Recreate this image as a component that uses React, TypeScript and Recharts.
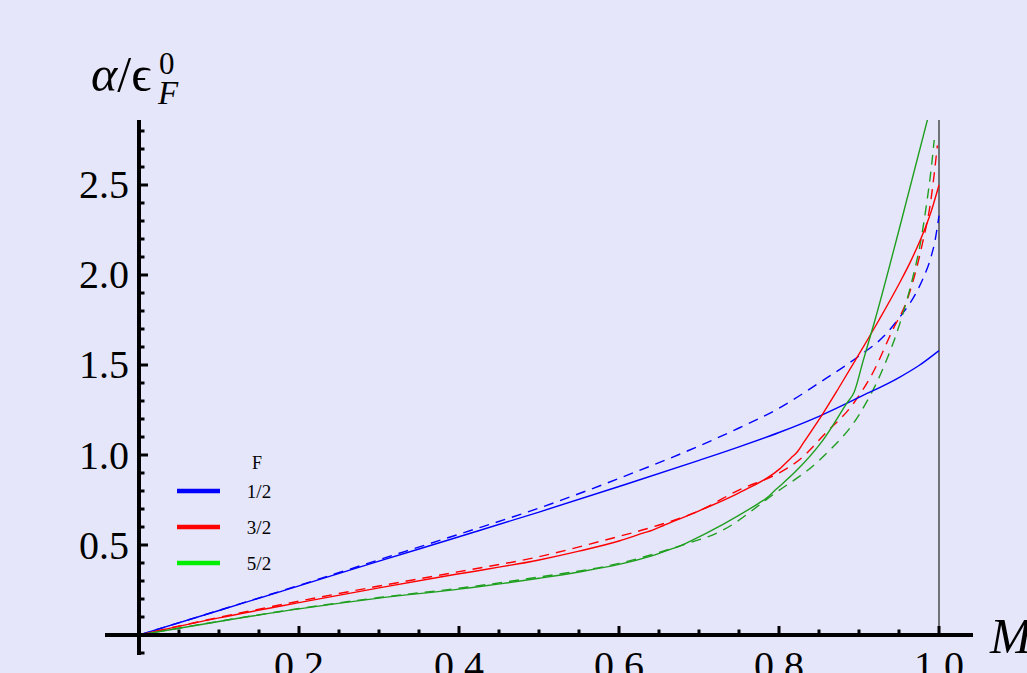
import React from "react";
import { LineChart, Line, XAxis, YAxis, ReferenceLine, ReferenceDot, Legend } from "recharts";

// ---- axis ranges (plot range incl. the bits of axis beyond the origin) ----
const X_MIN = -0.0425;
const X_MAX = 1.0425;
const Y_MIN = -0.1111;
const Y_MAX = 2.8611;

// ---- ticks ----
const xMajorTicks = [0.2, 0.4, 0.6, 0.8, 1.0];
const xMajorLabels = ["0.2", "0.4", "0.6", "0.8", "1.0"];
const xMinorTicks = [0.05, 0.1, 0.15, 0.25, 0.3, 0.35, 0.45, 0.5, 0.55, 0.65, 0.7, 0.75, 0.85, 0.9, 0.95];
const yMajorTicks = [0.5, 1.0, 1.5, 2.0, 2.5];
const yMajorLabels = ["0.5", "1.0", "1.5", "2.0", "2.5"];
const yMinorTicks = [-0.1, 0.1, 0.2, 0.3, 0.4, 0.6, 0.7, 0.8, 0.9, 1.1, 1.2, 1.3, 1.4, 1.6, 1.7, 1.8, 1.9, 2.1, 2.2, 2.3, 2.4, 2.6, 2.7, 2.8];

// ---- series: F = 1/2 (blue) ----
const blueSolidX = [0, 0.1, 0.2, 0.3, 0.4, 0.5, 0.6, 0.7, 0.75, 0.8, 0.85, 0.9, 0.95, 0.975, 1.0];
const blueSolidY = [0, 0.136, 0.273, 0.41, 0.546, 0.683, 0.825, 0.97, 1.045, 1.125, 1.215, 1.32, 1.43, 1.497, 1.58];
const blueDashX = [0, 0.1, 0.2, 0.3, 0.4, 0.5, 0.6, 0.7, 0.75, 0.8, 0.85, 0.9, 0.93, 0.95, 0.97, 0.98, 0.99, 0.995, 1.0];
const blueDashY = [0, 0.137, 0.276, 0.418, 0.56, 0.705, 0.87, 1.05, 1.15, 1.26, 1.4, 1.55, 1.655, 1.76, 1.89, 1.98, 2.1, 2.19, 2.33];

// ---- series: F = 3/2 (red) ----
const redSolidX = [0, 0.1, 0.2, 0.3, 0.4, 0.5, 0.55, 0.6, 0.63, 0.642, 0.655, 0.7, 0.75, 0.8, 0.815, 0.823, 0.83, 0.85, 0.875, 0.9, 0.925, 0.95, 0.965, 0.98, 0.99, 1.0];
const redSolidY = [0, 0.095, 0.18, 0.262, 0.34, 0.417, 0.466, 0.522, 0.566, 0.583, 0.607, 0.69, 0.79, 0.92, 0.984, 1.018, 1.064, 1.196, 1.375, 1.56, 1.75, 1.95, 2.08, 2.23, 2.35, 2.5];
const redDashX = [0, 0.1, 0.2, 0.3, 0.4, 0.5, 0.583, 0.642, 0.7, 0.751, 0.8, 0.826, 0.858, 0.892, 0.917, 0.942, 0.96, 0.979, 0.99, 0.998];
const redDashY = [0, 0.098, 0.188, 0.272, 0.352, 0.435, 0.528, 0.6, 0.69, 0.808, 0.9, 0.975, 1.12, 1.28, 1.454, 1.694, 1.86, 2.17, 2.42, 2.72];

// ---- series: F = 5/2 (green) ----
const greenSolidX = [0, 0.1, 0.2, 0.3, 0.4, 0.5, 0.55, 0.6, 0.64, 0.665, 0.676, 0.688, 0.73, 0.775, 0.784, 0.795, 0.82, 0.855, 0.885, 0.894, 0.905, 0.92, 0.95, 0.986, 1.0];
const greenSolidY = [0, 0.075, 0.145, 0.205, 0.255, 0.315, 0.35, 0.392, 0.438, 0.477, 0.494, 0.519, 0.615, 0.733, 0.759, 0.804, 0.905, 1.083, 1.289, 1.35, 1.52, 1.75, 2.25, 2.87, 3.12];
const greenDashX = [0, 0.1, 0.2, 0.3, 0.4, 0.5, 0.6, 0.676, 0.73, 0.792, 0.855, 0.901, 0.93, 0.951, 0.968, 0.976, 0.984, 0.991, 0.994];
const greenDashY = [0, 0.076, 0.147, 0.208, 0.26, 0.322, 0.398, 0.495, 0.583, 0.778, 0.99, 1.23, 1.48, 1.73, 2.0, 2.16, 2.38, 2.62, 2.75];

// ---- legend ----
const legendTitle = "F";
const legendLabels = ["1/2", "3/2", "5/2"];
const legendColors = ["#0000ff", "#ff0000", "#00ee00"];

const BLUE = "#0000ff";
const RED = "#ff0000";
const GREEN = "#1f9f1f";
const BG = "#E6E6FA";
const SERIF = "'Liberation Serif', 'Times New Roman', 'DejaVu Serif', serif";

const toPoints = (xs: number[], ys: number[]) => xs.map((x, i) => ({ x, y: ys[i] }));

const xTick = (major: boolean, label?: string) => (p: any) => (
  <g>
    <line x1={p.cx} x2={p.cx} y1={p.cy} y2={p.cy - (major ? 9 : 5.5)} stroke="#000" strokeWidth={3} />
    {label ? (
      <text x={p.cx} y={p.cy + 44} textAnchor="middle" fontSize={40} fontFamily={SERIF} fill="#000">
        {label}
      </text>
    ) : null}
  </g>
);

const yTick = (major: boolean, label?: string) => (p: any) => (
  <g>
    <line x1={p.cx} x2={p.cx + (major ? 9 : 5.5)} y1={p.cy} y2={p.cy} stroke="#000" strokeWidth={3} />
    {label ? (
      <text x={p.cx - 10} y={p.cy + 13.5} textAnchor="end" fontSize={40} fontFamily={SERIF} fill="#000">
        {label}
      </text>
    ) : null}
  </g>
);

const yTitle = (p: any) => (
  <g fontFamily={SERIF} fill="#000">
    <text x={p.cx - 48} y={p.cy - 29} fontSize={50}>
      <tspan fontStyle="italic">α</tspan>
      <tspan>/ϵ</tspan>
    </text>
    <text x={p.cx + 20} y={p.cy - 46} fontSize={31}>0</text>
    <text x={p.cx + 19} y={p.cy - 16} fontSize={33} fontStyle="italic">F</text>
  </g>
);

const xTitle = (p: any) => (
  <text x={p.cx + 17} y={p.cy + 18} fontSize={50} fontStyle="italic" fontFamily={SERIF} fill="#000">
    M
  </text>
);

const LegendBox = () => (
  <svg width={130} height={140} style={{ display: "block" }}>
    <text x={87} y={24} textAnchor="middle" fontSize={18} fontFamily={SERIF} fill="#000">
      {legendTitle}
    </text>
    {legendLabels.map((lab, i) => (
      <g key={lab}>
        <line x1={7} x2={50} y1={46 + i * 36} y2={46 + i * 36} stroke={legendColors[i]} strokeWidth={4.5} />
        <text x={89} y={52.5 + i * 36} textAnchor="middle" fontSize={19} fontFamily={SERIF} fill="#000">
          {lab}
        </text>
      </g>
    ))}
  </svg>
);

export default function App() {
  return (
    <div style={{ position: "absolute", left: 0, top: 0, width: 1027, height: 673, background: BG, overflow: "hidden" }}>
      <LineChart width={1027} height={673} margin={{ top: 120, right: 54, bottom: 18, left: 105 }}>
        <XAxis type="number" dataKey="x" domain={[X_MIN, X_MAX]} allowDataOverflow hide />
        <YAxis type="number" dataKey="y" domain={[Y_MIN, Y_MAX]} allowDataOverflow hide />

        <ReferenceLine segment={[{ x: 1, y: 0 }, { x: 1, y: Y_MAX }]} stroke="#333" strokeWidth={1.3} />

        <Line data={toPoints(blueDashX, blueDashY)} dataKey="y" type="monotone" stroke={BLUE} strokeWidth={1.4} strokeDasharray="10 7" dot={false} isAnimationActive={false} legendType="none" />
        <Line data={toPoints(redDashX, redDashY)} dataKey="y" type="monotone" stroke={RED} strokeWidth={1.4} strokeDasharray="10 7" dot={false} isAnimationActive={false} legendType="none" />
        <Line data={toPoints(greenDashX, greenDashY)} dataKey="y" type="monotone" stroke={GREEN} strokeWidth={1.4} strokeDasharray="10 7" dot={false} isAnimationActive={false} legendType="none" />
        <Line data={toPoints(blueSolidX, blueSolidY)} dataKey="y" name="1/2" type="monotone" stroke={BLUE} strokeWidth={1.4} dot={false} isAnimationActive={false} />
        <Line data={toPoints(redSolidX, redSolidY)} dataKey="y" name="3/2" type="monotone" stroke={RED} strokeWidth={1.4} dot={false} isAnimationActive={false} />
        <Line data={toPoints(greenSolidX, greenSolidY)} dataKey="y" name="5/2" type="monotone" stroke={GREEN} strokeWidth={1.4} dot={false} isAnimationActive={false} />

        <ReferenceLine y={0} stroke="#000" strokeWidth={4} />
        <ReferenceLine x={0} stroke="#000" strokeWidth={4} />

        {xMinorTicks.map((t) => (
          <ReferenceDot key={"xm" + t} x={t} y={0} ifOverflow="visible" shape={xTick(false)} />
        ))}
        {xMajorTicks.map((t, i) => (
          <ReferenceDot key={"xM" + t} x={t} y={0} ifOverflow="visible" shape={xTick(true, xMajorLabels[i])} />
        ))}
        {yMinorTicks.map((t) => (
          <ReferenceDot key={"ym" + t} x={0} y={t} ifOverflow="visible" shape={yTick(false)} />
        ))}
        {yMajorTicks.map((t, i) => (
          <ReferenceDot key={"yM" + t} x={0} y={t} ifOverflow="visible" shape={yTick(true, yMajorLabels[i])} />
        ))}
        <ReferenceDot x={0} y={Y_MAX} ifOverflow="visible" shape={yTitle} />
        <ReferenceDot x={X_MAX} y={0} ifOverflow="visible" shape={xTitle} />

        <Legend
          layout="horizontal"
          verticalAlign="middle"
          align="center"
          wrapperStyle={{ left: 170, top: 445, width: 130, height: 140 }}
          content={<LegendBox />}
        />
      </LineChart>
    </div>
  );
}
